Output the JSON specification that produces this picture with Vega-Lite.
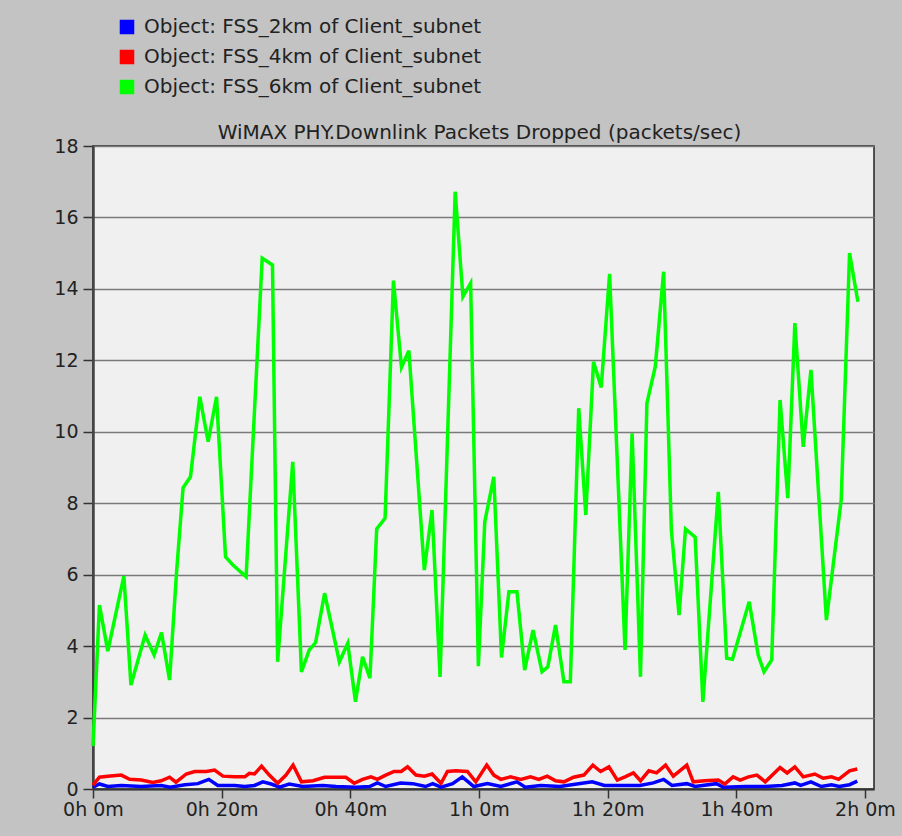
{
  "$schema": "https://vega.github.io/schema/vega-lite/v6.json",
  "width": 781,
  "height": 643,
  "autosize": {"type": "none"},
  "padding": {"left": 93, "top": 146, "right": 28, "bottom": 47},
  "background": "#c3c3c3",
  "title": {
    "text": "WiMAX PHY.Downlink Packets Dropped (packets/sec)",
    "font": "DejaVu Sans",
    "fontSize": 20,
    "fontWeight": "normal",
    "color": "#222222",
    "offset": 6,
    "dy": 132,
    "dx": -4,
    "anchor": "middle"
  },
  "datasets": {
    "blue": [
      {"t": 0, "v": 0.05}, {"t": 1.0, "v": 0.14}, {"t": 2.3, "v": 0.07}, {"t": 4.4, "v": 0.1}, {"t": 7.5, "v": 0.07},
      {"t": 10.6, "v": 0.1}, {"t": 12.0, "v": 0.05}, {"t": 14.3, "v": 0.12}, {"t": 16.3, "v": 0.15}, {"t": 18.0, "v": 0.27},
      {"t": 19.4, "v": 0.1}, {"t": 22.0, "v": 0.1}, {"t": 23.6, "v": 0.07}, {"t": 25.1, "v": 0.1}, {"t": 26.4, "v": 0.2},
      {"t": 27.7, "v": 0.14}, {"t": 29.0, "v": 0.05}, {"t": 30.5, "v": 0.14}, {"t": 32.6, "v": 0.07}, {"t": 35.7, "v": 0.1},
      {"t": 37.8, "v": 0.07}, {"t": 40.9, "v": 0.05}, {"t": 43.0, "v": 0.07}, {"t": 44.2, "v": 0.17}, {"t": 45.5, "v": 0.07},
      {"t": 47.8, "v": 0.17}, {"t": 49.7, "v": 0.15}, {"t": 51.7, "v": 0.07}, {"t": 52.8, "v": 0.15}, {"t": 54.1, "v": 0.05},
      {"t": 55.9, "v": 0.15}, {"t": 57.4, "v": 0.34}, {"t": 59.2, "v": 0.07}, {"t": 61.3, "v": 0.15}, {"t": 63.4, "v": 0.07},
      {"t": 65.9, "v": 0.2}, {"t": 67.2, "v": 0.05}, {"t": 69.6, "v": 0.1}, {"t": 72.6, "v": 0.07}, {"t": 75.2, "v": 0.14},
      {"t": 77.6, "v": 0.2}, {"t": 79.5, "v": 0.1}, {"t": 82.4, "v": 0.1}, {"t": 85.0, "v": 0.1}, {"t": 87.1, "v": 0.17},
      {"t": 88.7, "v": 0.27}, {"t": 90.0, "v": 0.1}, {"t": 92.3, "v": 0.15}, {"t": 93.6, "v": 0.07}, {"t": 96.9, "v": 0.15},
      {"t": 98.0, "v": 0.05}, {"t": 101.4, "v": 0.07}, {"t": 104.5, "v": 0.07}, {"t": 107.1, "v": 0.1}, {"t": 109.1, "v": 0.17},
      {"t": 110.0, "v": 0.1}, {"t": 111.6, "v": 0.2}, {"t": 113.2, "v": 0.07}, {"t": 114.8, "v": 0.12}, {"t": 116.0, "v": 0.07},
      {"t": 117.6, "v": 0.12}, {"t": 118.8, "v": 0.22}
    ],
    "red": [
      {"t": 0, "v": 0.11}, {"t": 1.0, "v": 0.33}, {"t": 2.3, "v": 0.36}, {"t": 4.4, "v": 0.39}, {"t": 5.7, "v": 0.27},
      {"t": 7.5, "v": 0.25}, {"t": 9.3, "v": 0.18}, {"t": 10.6, "v": 0.23}, {"t": 11.9, "v": 0.33}, {"t": 12.9, "v": 0.19},
      {"t": 14.5, "v": 0.42}, {"t": 15.8, "v": 0.49}, {"t": 17.6, "v": 0.49}, {"t": 18.9, "v": 0.53}, {"t": 20.2, "v": 0.36},
      {"t": 22.0, "v": 0.34}, {"t": 23.6, "v": 0.34}, {"t": 24.3, "v": 0.44}, {"t": 25.1, "v": 0.42}, {"t": 26.2, "v": 0.64},
      {"t": 27.4, "v": 0.39}, {"t": 28.7, "v": 0.16}, {"t": 30.0, "v": 0.39}, {"t": 31.1, "v": 0.67}, {"t": 32.4, "v": 0.2},
      {"t": 34.2, "v": 0.23}, {"t": 36.0, "v": 0.33}, {"t": 38.3, "v": 0.33}, {"t": 39.3, "v": 0.33}, {"t": 40.6, "v": 0.16},
      {"t": 41.9, "v": 0.27}, {"t": 43.2, "v": 0.34}, {"t": 44.2, "v": 0.27}, {"t": 45.5, "v": 0.39}, {"t": 46.8, "v": 0.49},
      {"t": 47.9, "v": 0.49}, {"t": 48.9, "v": 0.62}, {"t": 50.2, "v": 0.39}, {"t": 51.5, "v": 0.36}, {"t": 52.7, "v": 0.42},
      {"t": 54.1, "v": 0.16}, {"t": 55.1, "v": 0.49}, {"t": 56.4, "v": 0.51}, {"t": 58.2, "v": 0.49}, {"t": 59.5, "v": 0.2},
      {"t": 61.2, "v": 0.67}, {"t": 62.3, "v": 0.39}, {"t": 63.4, "v": 0.27}, {"t": 64.9, "v": 0.34}, {"t": 66.5, "v": 0.27},
      {"t": 68.0, "v": 0.34}, {"t": 69.3, "v": 0.27}, {"t": 70.6, "v": 0.36}, {"t": 71.9, "v": 0.23}, {"t": 73.2, "v": 0.2},
      {"t": 74.7, "v": 0.33}, {"t": 76.3, "v": 0.39}, {"t": 77.7, "v": 0.67}, {"t": 78.9, "v": 0.49}, {"t": 80.2, "v": 0.62},
      {"t": 81.5, "v": 0.25}, {"t": 82.7, "v": 0.34}, {"t": 84.0, "v": 0.45}, {"t": 85.1, "v": 0.23}, {"t": 86.4, "v": 0.51},
      {"t": 87.6, "v": 0.45}, {"t": 89.0, "v": 0.67}, {"t": 90.2, "v": 0.36}, {"t": 92.3, "v": 0.67}, {"t": 93.3, "v": 0.2},
      {"t": 95.1, "v": 0.23}, {"t": 97.2, "v": 0.25}, {"t": 98.2, "v": 0.14}, {"t": 99.5, "v": 0.34}, {"t": 100.6, "v": 0.25},
      {"t": 101.9, "v": 0.34}, {"t": 103.2, "v": 0.39}, {"t": 104.5, "v": 0.2}, {"t": 106.8, "v": 0.6}, {"t": 107.9, "v": 0.45},
      {"t": 109.1, "v": 0.62}, {"t": 110.4, "v": 0.34}, {"t": 112.2, "v": 0.42}, {"t": 113.5, "v": 0.3}, {"t": 114.8, "v": 0.34},
      {"t": 115.9, "v": 0.27}, {"t": 117.6, "v": 0.51}, {"t": 118.8, "v": 0.56}
    ],
    "green": [
      {"t": 0, "v": 1.2}, {"t": 1.0, "v": 5.15}, {"t": 2.3, "v": 3.86}, {"t": 4.8, "v": 5.96}, {"t": 5.9, "v": 2.91},
      {"t": 8.1, "v": 4.31}, {"t": 9.5, "v": 3.75}, {"t": 10.65, "v": 4.38}, {"t": 11.9, "v": 3.05}, {"t": 13.0, "v": 6.1},
      {"t": 14.0, "v": 8.43}, {"t": 15.15, "v": 8.74}, {"t": 16.6, "v": 10.98}, {"t": 17.9, "v": 9.72}, {"t": 19.2, "v": 10.98},
      {"t": 20.6, "v": 6.5}, {"t": 21.75, "v": 6.27}, {"t": 23.8, "v": 5.94}, {"t": 26.3, "v": 14.86}, {"t": 27.9, "v": 14.67},
      {"t": 28.7, "v": 3.56}, {"t": 31.05, "v": 9.16}, {"t": 32.4, "v": 3.28}, {"t": 33.6, "v": 3.89}, {"t": 34.6, "v": 4.1},
      {"t": 36.0, "v": 5.48}, {"t": 38.3, "v": 3.56}, {"t": 39.6, "v": 4.08}, {"t": 40.8, "v": 2.44}, {"t": 41.9, "v": 3.7},
      {"t": 43.05, "v": 3.1}, {"t": 44.1, "v": 7.28}, {"t": 45.4, "v": 7.58}, {"t": 46.7, "v": 14.23}, {"t": 47.95, "v": 11.81},
      {"t": 49.1, "v": 12.27}, {"t": 51.5, "v": 6.13}, {"t": 52.7, "v": 7.81}, {"t": 53.95, "v": 3.14}, {"t": 56.3, "v": 16.72},
      {"t": 57.5, "v": 13.78}, {"t": 58.7, "v": 14.16}, {"t": 59.9, "v": 3.44}, {"t": 60.9, "v": 7.48}, {"t": 62.3, "v": 8.74},
      {"t": 63.5, "v": 3.68}, {"t": 64.65, "v": 5.52}, {"t": 65.9, "v": 5.52}, {"t": 67.1, "v": 3.33}, {"t": 68.4, "v": 4.45},
      {"t": 69.8, "v": 3.28}, {"t": 70.7, "v": 3.42}, {"t": 71.9, "v": 4.59}, {"t": 73.2, "v": 3.0}, {"t": 74.2, "v": 3.0},
      {"t": 75.5, "v": 10.66}, {"t": 76.6, "v": 7.67}, {"t": 77.8, "v": 11.96}, {"t": 79.0, "v": 11.24}, {"t": 80.3, "v": 14.42},
      {"t": 82.7, "v": 3.89}, {"t": 83.8, "v": 9.96}, {"t": 85.1, "v": 3.14}, {"t": 86.1, "v": 10.8}, {"t": 87.4, "v": 11.82},
      {"t": 88.7, "v": 14.48}, {"t": 89.9, "v": 7.25}, {"t": 91.1, "v": 4.87}, {"t": 92.1, "v": 7.28}, {"t": 93.6, "v": 7.05},
      {"t": 94.8, "v": 2.44}, {"t": 97.2, "v": 8.32}, {"t": 98.5, "v": 3.66}, {"t": 99.4, "v": 3.63}, {"t": 102.0, "v": 5.24},
      {"t": 103.4, "v": 3.75}, {"t": 104.3, "v": 3.28}, {"t": 105.5, "v": 3.61}, {"t": 106.8, "v": 10.89}, {"t": 108.0, "v": 8.14},
      {"t": 109.1, "v": 13.04}, {"t": 110.4, "v": 9.58}, {"t": 111.6, "v": 11.73}, {"t": 114.0, "v": 4.73}, {"t": 116.3, "v": 8.09},
      {"t": 117.6, "v": 15.0}, {"t": 118.9, "v": 13.64}
    ]
  },
  "layer": [
    {
      "data": {"name": "blue"},
      "transform": [{"calculate": "'Object: FSS_2km of Client_subnet'", "as": "s"}],
      "mark": {"type": "line", "strokeWidth": 3.5, "interpolate": "linear"},
      "encoding": {
        "x": {"field": "t", "type": "quantitative"},
        "y": {"field": "v", "type": "quantitative"},
        "color": {"field": "s", "type": "nominal"}
      }
    },
    {
      "data": {"name": "red"},
      "transform": [{"calculate": "'Object: FSS_4km of Client_subnet'", "as": "s"}],
      "mark": {"type": "line", "strokeWidth": 3.5, "interpolate": "linear"},
      "encoding": {
        "x": {"field": "t", "type": "quantitative"},
        "y": {"field": "v", "type": "quantitative"},
        "color": {"field": "s", "type": "nominal"}
      }
    },
    {
      "data": {"name": "green"},
      "transform": [{"calculate": "'Object: FSS_6km of Client_subnet'", "as": "s"}],
      "mark": {"type": "line", "strokeWidth": 3.5, "interpolate": "linear"},
      "encoding": {
        "x": {
          "field": "t", "type": "quantitative",
          "scale": {"domain": [0, 121.4], "nice": false, "zero": false},
          "axis": {
            "title": null, "grid": false,
            "values": [0, 20, 40, 60, 80, 100, 120],
            "labelExpr": "floor(datum.value / 60) + 'h ' + (datum.value % 60) + 'm'",
            "tickSize": 9, "labelPadding": 2, "domain": true, "domainWidth": 2, "domainColor": "#333333",
            "labelFlush": false, "labelOverlap": false
          }
        },
        "y": {
          "field": "v", "type": "quantitative",
          "scale": {"domain": [0, 18], "nice": false},
          "axis": {
            "title": null,
            "values": [0, 2, 4, 6, 8, 10, 12, 14, 16, 18],
            "tickSize": 10, "labelPadding": 5, "domainWidth": 2.5, "domainColor": "#444444",
            "gridColor": "#7a7a7a", "gridWidth": 1.5, "labelFlush": false, "labelOverlap": false
          }
        },
        "color": {
          "field": "s", "type": "nominal",
          "scale": {
            "domain": ["Object: FSS_2km of Client_subnet", "Object: FSS_4km of Client_subnet", "Object: FSS_6km of Client_subnet"],
            "range": ["#0000ff", "#ff0000", "#00ff00"]
          },
          "legend": {
            "title": null,
            "orient": "none",
            "legendX": 24,
            "legendY": -129,
            "symbolType": "square",
            "symbolSize": 170,
            "symbolStrokeWidth": 1.5,
            "labelFontSize": 20,
            "labelFont": "DejaVu Sans",
            "labelColor": "#222222",
            "labelOffset": 7,
            "rowPadding": 10,
            "labelLimit": 600,
            "encode": {
              "symbols": {
                "update": {
                  "fill": {"scale": "color", "field": "value"},
                  "fillOpacity": {"value": 1},
                  "stroke": {"value": "#222222"},
                  "strokeWidth": {"value": 1.5},
                  "opacity": {"value": 1}
                }
              }
            }
          }
        }
      }
    }
  ],
  "config": {
    "view": {"fill": "#f0f0f0", "stroke": "#222222", "strokeWidth": 1.5},
    "axis": {
      "labelFont": "DejaVu Sans",
      "labelFontSize": 19,
      "labelColor": "#222222",
      "tickColor": "#333333",
      "tickWidth": 1.5
    }
  }
}
